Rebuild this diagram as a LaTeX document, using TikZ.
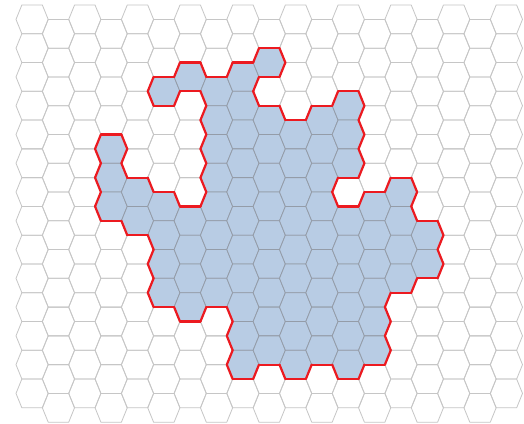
\documentclass[tikz,border=0pt]{standalone}
\usepackage{tikz}
\usepackage{xcolor}
\definecolor{cellcolor}{RGB}{184,204,228}
\definecolor{gridcolor}{RGB}{198,198,198}
\definecolor{innercolor}{RGB}{148,156,168}
\definecolor{rimcolor}{RGB}{236,26,32}
\tikzset{
  hexcell/.pic={\path[pic actions] (-16.1,0) -- (-10.25,-14.385) -- (10.25,-14.385) -- (16.1,0) -- (10.25,14.385) -- (-10.25,14.385) -- cycle;},
  gridline/.style={draw=gridcolor, line width=0.8pt, line join=round},
  bluecell/.style={fill=cellcolor, draw=innercolor, line width=0.8pt, line join=round},
  rim/.style={draw=rimcolor, line width=2.2pt, line cap=round},
}
\newcommand{\hexat}[2]{%
  \pgfmathsetmacro{\hcx}{32.1+26.35*#1}%
  \pgfmathsetmacro{\hcy}{19.4+28.77*#2+14.385*mod(#1,2)}}
\def\bluecols{3/{4,5,6},4/{6,7},5/{2,6,7,8,9},6/{2,7,8,9,10},7/{2,...,9},8/{2,...,12},9/{1,3,4,5,6,7,8,9,10,11},10/{4,...,12},11/{3,...,11},12/{3,4,5,7,8,9,10,11,12},13/{6,...,11},14/{6,...,9},15/{7,8}}

\begin{document}
\begin{tikzpicture}[x=1pt, y=-1pt]

\useasboundingbox (0,0) rectangle (524,423);
\fill[white] (0,0) rectangle (524,423);

\foreach \c in {0,...,18}
  \foreach \r in {0,...,13}{
    \hexat{\c}{\r}
    \pic[gridline] at (\hcx,\hcy) {hexcell};
  }

\foreach \c/\rows in \bluecols
  \foreach \r in \rows{
    \hexat{\c}{\r}
    \pic[bluecell] at (\hcx,\hcy) {hexcell};
    \pgfmathtruncatemacro{\ci}{\c}
    \pgfmathtruncatemacro{\ri}{\r}
    \expandafter\gdef\csname hexon-\ci-\ri\endcsname{}
  }

\foreach \c/\rows in \bluecols
  \foreach \r in \rows{
    \hexat{\c}{\r}
    \foreach \dc/\dr/\q/\ax/\ay/\bx/\by in {0/-1/0/-10.25/-14.385/10.25/-14.385,0/1/0/-10.25/14.385/10.25/14.385,1/-1/1/10.25/-14.385/16.1/0,1/0/1/16.1/0/10.25/14.385,-1/-1/1/-16.1/0/-10.25/-14.385,-1/0/1/-16.1/0/-10.25/14.385}{
      \pgfmathtruncatemacro{\nc}{\c+\dc}
      \pgfmathtruncatemacro{\nr}{\r+\dr+\q*mod(\c,2)}
      \ifcsname hexon-\nc-\nr\endcsname\else
        \draw[rim] (\hcx+\ax,\hcy+\ay) -- (\hcx+\bx,\hcy+\by);
      \fi
    }
  }

\end{tikzpicture}
\end{document}
